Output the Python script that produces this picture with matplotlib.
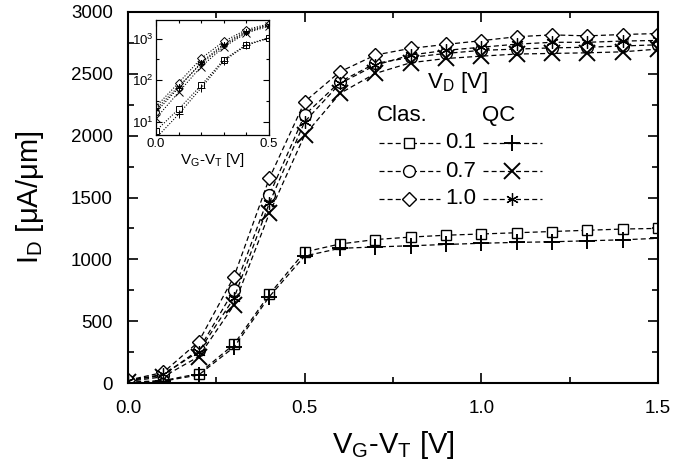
import numpy as np
import matplotlib
matplotlib.use("Agg")
import matplotlib.pyplot as plt
from matplotlib.ticker import FixedLocator, MultipleLocator, NullFormatter

plt.rcParams['font.family'] = ['Liberation Sans', 'DejaVu Sans']
plt.rcParams['mathtext.fontset'] = 'custom'
plt.rcParams['mathtext.rm'] = 'Liberation Sans'
plt.rcParams['mathtext.it'] = 'Liberation Sans'

vg = [0.0, 0.1, 0.2, 0.3, 0.4, 0.5, 0.6, 0.7, 0.8, 0.9, 1.0, 1.1, 1.2, 1.3, 1.4, 1.5]
clas_01 = [6, 20, 75, 313, 717, 1060, 1124, 1160, 1180, 1195, 1205, 1215, 1225, 1235, 1245, 1250]
qc_01 = [4, 15, 65, 290, 698, 1027, 1089, 1100, 1110, 1120, 1130, 1137, 1142, 1150, 1158, 1170]
clas_07 = [17, 65, 267, 752, 1520, 2167, 2436, 2584, 2633, 2665, 2690, 2700, 2710, 2715, 2725, 2735]
qc_07 = [12, 51, 213, 630, 1372, 2005, 2342, 2503, 2590, 2624, 2643, 2660, 2665, 2670, 2678, 2700]
clas_10 = [23, 86, 334, 860, 1655, 2274, 2517, 2652, 2706, 2738, 2768, 2800, 2815, 2807, 2818, 2826]
qc_10 = [20, 70, 253, 687, 1455, 2112, 2422, 2570, 2652, 2690, 2715, 2740, 2755, 2755, 2765, 2770]
vd_labels = ['0.1', '0.7', '1.0']

ast = (6, 2, 0)
series = [
    (clas_01, 's', 7.5, 'none', 1.0),
    (qc_01, '+', 11, 'k', 1.4),
    (clas_07, 'o', 8.5, 'none', 1.0),
    (qc_07, 'x', 11, 'k', 1.4),
    (clas_10, 'D', 7.5, 'none', 1.0),
    (qc_10, ast, 9, 'k', 0.9),
]
dash = (0, (4, 2.5))

fig = plt.figure(figsize=(6.9, 4.68), dpi=100)
ax = fig.add_axes([128/690, 1-383/468, 530/690, 371/468])
for y, m, ms, fc, mew in series:
    ax.plot(vg, y, color='k', lw=0.9, linestyle=dash, marker=m, ms=ms,
            mfc='white' if fc == 'none' else 'k', mec='k', mew=mew)

ax.set_xlim(0, 1.5)
ax.set_ylim(0, 3000)
ax.xaxis.set_major_locator(FixedLocator([0, 0.5, 1.0, 1.5]))
ax.xaxis.set_minor_locator(MultipleLocator(0.25))
ax.yaxis.set_major_locator(MultipleLocator(500))
ax.yaxis.set_minor_locator(MultipleLocator(250))
ax.set_xticklabels(['0.0', '0.5', '1.0', '1.5'])
ax.tick_params(which='both', direction='in', top=True, right=True, labelsize=13.5, width=1.2)
ax.tick_params(which='major', length=7)
ax.tick_params(axis='x', which='major', pad=12)
ax.tick_params(axis='y', which='major', pad=11)
ax.tick_params(which='minor', length=4)
for s in ax.spines.values():
    s.set_linewidth(1.5)
ax.set_xlabel(r'V$_\mathregular{G}$-V$_\mathregular{T}$ [V]', fontsize=21, labelpad=9)
ax.set_ylabel(r'I$_\mathregular{D}$ [$\mathregular{\mu}$A/$\mathregular{\mu}$m]', fontsize=21, labelpad=18)

# legend (drawn manually)
T = ax.transAxes
ax.text(0.621, 0.811, r'V$_\mathregular{D}$ [V]', transform=T, fontsize=16, ha='center', va='center')
ax.text(0.517, 0.720, 'Clas.', transform=T, fontsize=16, ha='center', va='center')
ax.text(0.700, 0.720, 'QC', transform=T, fontsize=16, ha='center', va='center')
rows_y = [0.647, 0.571, 0.496]
for i, ry in enumerate(rows_y):
    yc, mc, msc, _, mewc = series[2*i]
    yq, mq, msq, _, mewq = series[2*i+1]
    ax.plot([0.474, 0.589], [ry, ry], transform=T, color='k', lw=0.9, linestyle=dash, clip_on=False)
    ax.plot([0.530], [ry], transform=T, marker=mc, ms=msc, mfc='white', mec='k', mew=mewc, clip_on=False)
    ax.text(0.628, ry, vd_labels[i], transform=T, fontsize=16, ha='center', va='center')
    ax.plot([0.670, 0.781], [ry, ry], transform=T, color='k', lw=0.9, linestyle=dash, clip_on=False)
    ax.plot([0.725], [ry], transform=T, marker=mq, ms=msq, color='k', mew=mewq, clip_on=False)

# inset
ins = fig.add_axes([156/690, 1-135/468, 113/690, 115/468])
for y, m, ms, fc, mew in series:
    ins.plot(vg[:6], y[:6], color='k', lw=0.8, linestyle=(0, (1, 1.5)), marker=m, ms=ms*0.5,
             mfc='white' if fc == 'none' else 'k', mec='k', mew=0.7)
ins.set_yscale('log')
ins.set_xlim(0, 0.5)
ins.set_ylim(4.75, 2820)
ins.xaxis.set_major_locator(FixedLocator([0, 0.5]))
ins.xaxis.set_minor_locator(MultipleLocator(0.1))
ins.set_xticklabels(['0.0', '0.5'])
ins.yaxis.set_major_locator(FixedLocator([10, 100, 1000]))
ins.yaxis.set_minor_locator(FixedLocator([10**0.5 * 10, 10**1.5 * 10]))
ins.yaxis.set_minor_formatter(NullFormatter())
ins.set_yticklabels([r'10$^\mathregular{1}$', r'10$^\mathregular{2}$', r'10$^\mathregular{3}$'])
ins.tick_params(which='both', direction='in', top=True, right=True, labelsize=9.5, width=0.8)
ins.tick_params(which='major', length=4, pad=2)
ins.tick_params(which='minor', length=2.5)
for s in ins.spines.values():
    s.set_linewidth(0.9)
ins.set_xlabel(r'V$_\mathregular{G}$-V$_\mathregular{T}$ [V]', fontsize=11, labelpad=1)

fig.savefig('out.png', dpi=100)
